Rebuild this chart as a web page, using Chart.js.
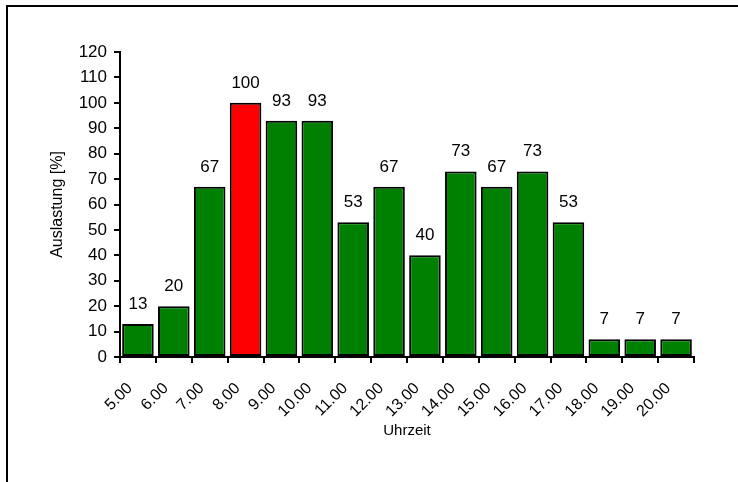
<!DOCTYPE html>
<html>
<head>
<meta charset="utf-8">
<script src="https://cdn.jsdelivr.net/npm/chart.js@4/dist/chart.umd.min.js"></script>
<style>
  html, body { margin: 0; padding: 0; background: #fff; }
  canvas { display: block; }
</style>
</head>
<body>
<canvas id="auslastung" width="738" height="482"></canvas>
<script>
const hours = ["5.00", "6.00", "7.00", "8.00", "9.00", "10.00", "11.00", "12.00",
    "13.00", "14.00", "15.00", "16.00", "17.00", "18.00", "19.00", "20.00"];
const load = [13, 20, 67, 100, 93, 93, 53, 67, 40, 73, 67, 73, 53, 7, 7, 7];
const yMin = 0;
const yMax = 120;
const yStep = 10;

const peak = Math.max(...load);
const barColors = load.map(v => v === peak ? "#ff0000" : "#008000");

const FONT = "'Liberation Sans', Arial, Helvetica, sans-serif";

// frame of the original picture (only top and left edge visible)
const framePlugin = {
    id: "frame",
    beforeDraw(chart) {
        const ctx = chart.ctx;
        ctx.save();
        ctx.strokeStyle = "#000";
        ctx.lineWidth = 2;
        ctx.beginPath();
        ctx.moveTo(738, 6);
        ctx.lineTo(7, 6);
        ctx.lineTo(7, 482);
        ctx.stroke();
        ctx.restore();
    }
};

// value above every bar
const valueLabels = {
    id: "valueLabels",
    afterDatasetsDraw(chart) {
        const ctx = chart.ctx;
        const meta = chart.getDatasetMeta(0);
        ctx.save();
        ctx.font = "17px " + FONT;
        ctx.fillStyle = "#000";
        ctx.textAlign = "center";
        ctx.textBaseline = "alphabetic";
        meta.data.forEach((bar, i) => {
            ctx.fillText(String(load[i]), bar.x, bar.y - 15);
        });
        ctx.restore();
    }
};

new Chart(document.getElementById("auslastung"), {
    type: "bar",
    data: {
        labels: hours,
        datasets: [{
            data: load,
            backgroundColor: barColors,
            borderColor: "#000",
            borderWidth: 2,
            borderSkipped: false,
            barPercentage: 0.88,
            categoryPercentage: 1,
        }],
    },
    options: {
        responsive: false,
        animation: false,
        devicePixelRatio: 1,
        layout: { padding: { left: 44, right: 44, top: 52, bottom: 38 } },
        plugins: {
            legend: { display: false },
            tooltip: { enabled: false },
        },
        scales: {
            x: {
                afterFit(scale) { scale.height = 87; },
                grid: {
                    offset: true,
                    drawOnChartArea: false,
                    color: "#000",
                    lineWidth: 2,
                    tickLength: 6,
                },
                border: { color: "#000", width: 2 },
                ticks: {
                    color: "#000",
                    font: { family: FONT, size: 16 },
                    minRotation: 45,
                    maxRotation: 45,
                    padding: 16,
                    labelOffset: -8,
                    autoSkip: false,
                },
                title: {
                    display: true,
                    text: "Uhrzeit",
                    color: "#000",
                    font: { family: FONT, size: 15 },
                },
            },
            y: {
                min: yMin,
                max: yMax,
                afterFit(scale) { scale.width = 76; },
                grid: {
                    drawOnChartArea: false,
                    color: "#000",
                    lineWidth: 2,
                    tickLength: 6,
                },
                border: { color: "#000", width: 2 },
                ticks: {
                    stepSize: yStep,
                    color: "#000",
                    font: { family: FONT, size: 17 },
                    padding: 7,
                },
                title: {
                    display: true,
                    text: "Auslastung [%]",
                    color: "#000",
                    font: { family: FONT, size: 16 },
                },
            },
        },
    },
    plugins: [framePlugin, valueLabels],
});
</script>
</body>
</html>
